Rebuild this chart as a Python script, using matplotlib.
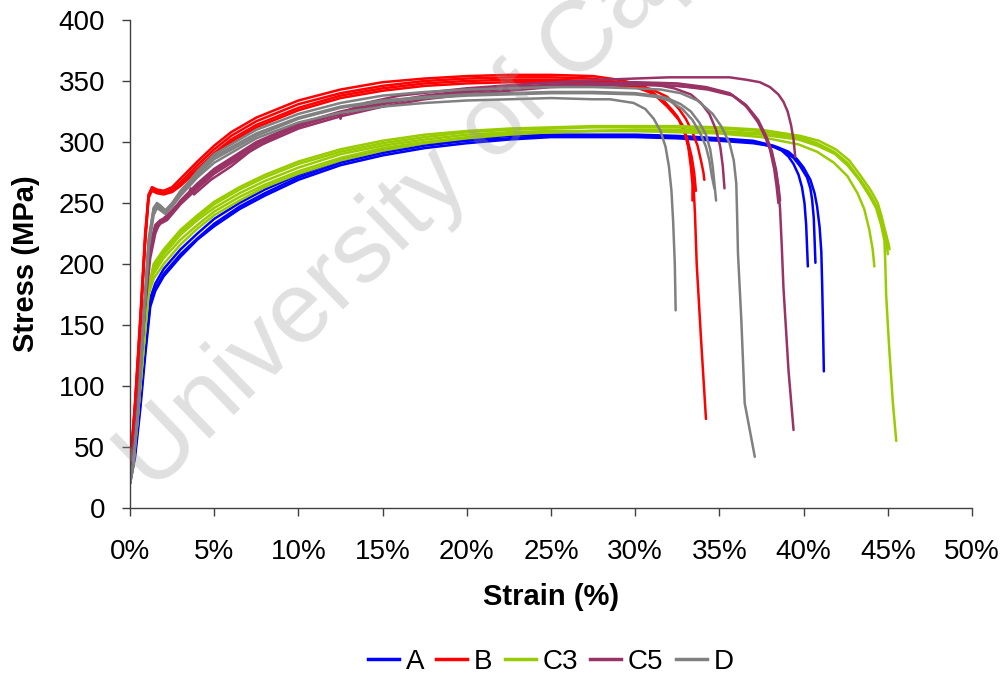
import matplotlib
matplotlib.use("Agg")
import matplotlib.pyplot as plt
from matplotlib.lines import Line2D
from matplotlib.ticker import FuncFormatter

plt.rcParams['font.family'] = ['Liberation Sans', 'DejaVu Sans']

# specimen groups, one colour per group
groups = ["A", "B", "C3", "C5", "D"]
colors = ["#0000FF", "#FF0000", "#99CC00", "#993366", "#808080"]

# strain (%) / stress (MPa), one list per specimen
A_strain = [
    [0, 0.3, 0.6, 0.9, 1.2, 1.5, 2, 3, 4, 5, 6.5, 8, 10, 12.5, 15, 17.5, 20, 22.5, 25, 27.5, 30, 32.5, 35, 37, 38.2, 38.7, 39.1, 39.4, 39.7, 39.9, 40.05, 40.15, 40.2, 40.25],
    [0, 0.3, 0.6, 0.9, 1.2, 1.5, 2, 3, 4, 5, 6.5, 8, 10, 12.5, 15, 17.5, 20, 22.5, 25, 27.5, 30, 32.5, 35, 37, 38.2, 38.9, 39.4, 39.8, 40.2, 40.4, 40.5, 40.6, 40.65, 40.7],
    [0, 0.3, 0.6, 0.9, 1.2, 1.5, 2, 3, 4, 5, 6.5, 8, 10, 12.5, 15, 17.5, 20, 22.5, 25, 27.5, 30, 32.5, 35, 37, 38.4, 39.1, 39.6, 40.0, 40.4, 40.65, 40.8, 40.95, 41.05, 41.1, 41.15, 41.2],
]
A_stress = [
    [22, 45, 85, 130, 168, 180, 192, 208, 221, 233, 247, 258, 271, 283, 291, 297, 301, 303, 305, 305, 305, 304, 302, 300, 296, 293, 288, 282, 273, 263, 250, 232, 215, 198],
    [25, 50, 92, 138, 172, 184, 196, 212, 225, 237, 250, 261, 273, 285, 293, 299, 302, 305, 306, 306, 306, 305, 303, 301, 297, 292, 287, 280, 271, 262, 253, 238, 220, 201],
    [20, 42, 80, 125, 165, 178, 190, 206, 220, 231, 245, 256, 269, 281, 289, 295, 299, 302, 304, 304, 304, 303, 301, 299, 296, 292, 286, 279, 269, 258, 247, 230, 210, 183, 150, 112],
]

B_strain = [
    [0, 0.3, 0.6, 0.9, 1.1, 1.3, 1.6, 2.0, 2.5, 3, 4, 5, 6, 7.5, 10, 12.5, 15, 17.5, 20, 22.5, 25, 27.5, 29, 30, 30.6, 31.1, 31.8, 32.5, 32.9, 33.15, 33.3, 33.4, 33.4],
    [0, 0.3, 0.6, 0.9, 1.1, 1.3, 1.6, 2.0, 2.5, 3, 4, 5, 6, 7.5, 10, 12.5, 15, 17.5, 20, 22.5, 25, 27.5, 29, 30, 30.6, 31.2, 31.9, 32.6, 33.0, 33.3, 33.45, 33.55, 33.65, 33.9, 34.2],
    [0, 0.3, 0.6, 0.9, 1.1, 1.3, 1.6, 2.0, 2.5, 3, 4, 5, 6, 7.5, 10, 12.5, 15, 17.5, 20, 22.5, 25, 27.5, 30, 31.0, 31.9, 32.6, 33.0, 33.4, 33.7, 33.9, 34.05, 34.1],
    [0, 0.3, 0.6, 0.9, 1.1, 1.3, 1.6, 2.0, 2.5, 3, 4, 5, 6, 7.5, 10, 12.5, 15, 17.5, 20, 22.5, 25, 27.5, 30, 30.8, 31.5, 32.2, 32.8, 33.1, 33.35, 33.5, 33.6],
]
B_stress = [
    [30, 85, 150, 222, 256, 263, 261, 260, 263, 270, 284, 297, 308, 320, 334, 343, 349, 352, 354, 355, 355, 354, 351, 348, 345, 340, 332, 321, 310, 296, 280, 265, 252],
    [28, 80, 145, 218, 254, 261, 259, 258, 261, 267, 281, 294, 305, 317, 331, 340, 346, 350, 352, 353, 353, 352, 349, 346, 343, 338, 329, 318, 305, 288, 268, 240, 200, 140, 73],
    [32, 88, 155, 226, 257, 262, 260, 258, 260, 265, 278, 291, 302, 314, 328, 338, 344, 348, 350, 351, 351, 350, 347, 343, 337, 327, 319, 308, 297, 285, 275, 269],
    [30, 84, 150, 220, 255, 260, 258, 257, 259, 264, 277, 290, 300, 312, 326, 336, 342, 346, 348, 349, 349, 348, 345, 341, 336, 326, 314, 302, 288, 275, 260],
]

C3_strain = [
    [0, 0.4, 0.8, 1.1, 1.4, 2, 3, 4, 5, 6.5, 8, 10, 12.5, 15, 17.5, 20, 22.5, 25, 27.5, 30, 32.5, 35, 37.5, 39.7, 40.8, 41.8, 42.6, 43.2, 43.6, 43.9, 44.1, 44.2],
    [0, 0.4, 0.8, 1.1, 1.4, 2, 3, 4, 5, 6.5, 8, 10, 12.5, 15, 17.5, 20, 22.5, 25, 27.5, 30, 32.5, 35, 37.5, 39.7, 40.8, 41.8, 42.6, 43.3, 43.9, 44.3, 44.6, 44.8, 44.95, 45.0],
    [0, 0.4, 0.8, 1.1, 1.4, 2, 3, 4, 5, 6.5, 8, 10, 12.5, 15, 17.5, 20, 22.5, 25, 27.5, 30, 32.5, 35, 37.5, 39.7, 40.8, 41.9, 42.7, 43.4, 44.0, 44.4, 44.7, 44.9, 45.05, 45.1],
    [0, 0.4, 0.8, 1.1, 1.4, 2, 3, 4, 5, 6.5, 8, 10, 12.5, 15, 17.5, 20, 22.5, 25, 27.5, 30, 32.5, 35, 37.5, 39.8, 40.9, 41.9, 42.7, 43.4, 44.0, 44.4, 44.65, 44.85, 45.0],
    [0, 0.4, 0.8, 1.1, 1.4, 2, 3, 4, 5, 6.5, 8, 10, 12.5, 15, 17.5, 20, 22.5, 25, 27.5, 30, 32.5, 35, 37.5, 39.7, 40.8, 41.8, 42.6, 43.3, 43.9, 44.3, 44.6, 44.8, 44.85, 44.9, 45.0, 45.1, 45.3, 45.5],
]
C3_stress = [
    [25, 70, 135, 180, 195, 208, 224, 236, 246, 258, 268, 279, 290, 297, 302, 306, 308, 309, 309, 309, 308, 307, 304, 298, 292, 283, 272, 258, 245, 228, 212, 198],
    [22, 65, 130, 178, 198, 210, 226, 238, 249, 261, 271, 282, 292, 299, 304, 308, 310, 311, 312, 312, 312, 311, 309, 304, 299, 292, 283, 270, 258, 248, 237, 225, 215, 208],
    [24, 68, 132, 176, 192, 205, 220, 232, 243, 255, 265, 276, 287, 295, 300, 304, 307, 308, 309, 309, 309, 308, 306, 302, 297, 290, 280, 268, 255, 245, 233, 224, 216, 212],
    [23, 66, 131, 180, 200, 212, 228, 240, 251, 263, 273, 284, 294, 301, 306, 309, 311, 312, 313, 313, 313, 312, 310, 305, 301, 294, 285, 272, 260, 250, 238, 226, 215],
    [24, 67, 130, 175, 188, 200, 216, 229, 240, 252, 263, 274, 285, 293, 299, 303, 306, 308, 309, 310, 310, 309, 307, 303, 298, 291, 281, 269, 256, 246, 232, 219, 200, 175, 150, 127, 86, 55],
]

C5_strain = [
    [0, 0.3, 0.6, 0.9, 1.2, 1.5, 1.8, 2.2, 2.8, 3.5, 3.6, 3.8, 4.8, 6, 7.1, 9.1, 11, 12.4, 12.5, 12.6, 14, 16, 20, 24, 28, 32, 35.6, 36.6, 37.4, 38.0, 38.5, 38.8, 39.05, 39.25, 39.4, 39.5],
    [0, 0.3, 0.6, 0.9, 1.2, 1.5, 1.8, 2.2, 3, 4, 5, 7.5, 10, 12.5, 15, 17.5, 20, 22.5, 25, 27.5, 30, 31.2, 32.3, 33.3, 33.9, 34.4, 34.8, 35.05, 35.2, 35.3],
    [0, 0.3, 0.6, 0.9, 1.2, 1.5, 1.8, 2.2, 3, 4, 5, 7.5, 10, 12.5, 15, 17.5, 20, 22.5, 25, 27.5, 30, 32.5, 34.2, 35.6, 36.5, 37.2, 37.7, 38.0, 38.25, 38.4, 38.5],
    [0, 0.3, 0.6, 0.9, 1.2, 1.5, 1.8, 2.2, 3, 4, 5, 7.5, 10, 12.5, 15, 17.5, 20, 22.5, 25, 27.5, 30, 32.5, 34.3, 35.7, 36.6, 37.3, 37.8, 38.1, 38.35, 38.5, 38.6],
    [0, 0.3, 0.6, 0.9, 1.2, 1.5, 1.8, 2.2, 3, 4, 5, 7.5, 10, 12.5, 15, 17.5, 20, 22.5, 25, 27.5, 30, 32.5, 34.3, 35.8, 36.6, 37.3, 37.8, 38.1, 38.35, 38.5, 38.6, 38.7, 38.8, 39.1, 39.4],
]
C5_stress = [
    [25, 60, 110, 165, 205, 225, 235, 240, 248, 257, 262, 257, 269, 280, 292, 308, 318, 323, 319, 324, 332, 338, 344, 348, 351, 353, 353, 351, 349, 345, 339, 333, 325, 314, 302, 288],
    [25, 60, 115, 175, 215, 232, 236, 238, 252, 266, 278, 300, 315, 325, 332, 338, 342, 345, 347, 348, 348, 347, 344, 339, 332, 323, 310, 296, 280, 262],
    [22, 58, 112, 170, 212, 230, 234, 237, 250, 264, 276, 298, 313, 323, 331, 337, 341, 344, 346, 348, 349, 348, 345, 340, 331, 319, 305, 294, 278, 263, 250],
    [23, 57, 110, 168, 210, 228, 233, 236, 249, 262, 274, 296, 311, 321, 329, 335, 339, 342, 345, 346, 347, 346, 344, 339, 330, 318, 304, 293, 278, 264, 252],
    [24, 59, 113, 172, 213, 231, 235, 238, 251, 265, 277, 299, 314, 324, 332, 337, 341, 344, 346, 347, 347, 346, 343, 338, 329, 316, 302, 291, 276, 262, 245, 215, 181, 113, 64],
]

D_strain = [
    [0, 0.2, 0.5, 0.8, 1.1, 1.4, 1.6, 1.8, 2.1, 2.5, 3, 4, 5, 7.5, 10, 12.5, 15, 17.5, 20, 22.5, 25, 27.5, 28.5, 29.9, 30.6, 31.1, 31.5, 31.8, 32.0, 32.15, 32.25, 32.35, 32.4],
    [0, 0.2, 0.5, 0.8, 1.1, 1.4, 1.6, 1.8, 2.1, 2.5, 3, 4, 5, 7.5, 10, 12.5, 15, 17.5, 20, 22.5, 25, 27.5, 30, 31.2, 31.9, 32.7, 33.3, 33.8, 34.2, 34.45, 34.6, 34.7, 34.8],
    [0, 0.2, 0.5, 0.8, 1.1, 1.4, 1.6, 1.8, 2.1, 2.5, 3, 4, 5, 7.5, 10, 12.5, 15, 17.5, 20, 22.5, 25, 27.5, 30, 31.5, 32.7, 33.7, 34.6, 35.1, 35.6, 35.85, 36.0, 36.05, 36.1, 36.3, 36.5, 37.1],
    [0, 0.2, 0.5, 0.8, 1.1, 1.4, 1.6, 1.8, 2.1, 2.5, 3, 4, 5, 7.5, 10, 12.5, 15, 17.5, 20, 22.5, 25, 27.5, 30, 31.2, 32.0, 32.8, 33.4, 33.9, 34.2, 34.4, 34.55, 34.7],
]
D_stress = [
    [20, 35, 80, 150, 215, 244, 249, 246, 242, 247, 256, 271, 283, 303, 316, 324, 329, 332, 334, 335, 336, 335, 335, 332, 327, 319, 309, 296, 280, 260, 235, 200, 162],
    [22, 38, 85, 155, 220, 246, 250, 248, 244, 250, 260, 275, 288, 307, 320, 329, 334, 337, 339, 340, 341, 341, 340, 338, 336, 331, 325, 316, 306, 294, 280, 266, 252],
    [20, 36, 82, 150, 212, 240, 246, 244, 241, 248, 259, 276, 290, 310, 323, 332, 338, 341, 343, 344, 345, 345, 344, 343, 340, 334, 323, 313, 299, 285, 266, 240, 209, 154, 86, 42],
    [21, 37, 84, 152, 218, 245, 248, 246, 243, 249, 258, 273, 286, 305, 319, 328, 333, 336, 338, 339, 340, 340, 339, 337, 334, 327, 318, 306, 296, 285, 272, 262],
]

all_strain = [A_strain, B_strain, C3_strain, C5_strain, D_strain]
all_stress = [A_stress, B_stress, C3_stress, C5_stress, D_stress]

fig = plt.figure(figsize=(10.05, 6.77), dpi=100)
ax = fig.add_axes([0.1294, 0.2496, 0.8378, 0.7209])

for name, col, xs, ys in zip(groups, colors, all_strain, all_stress):
    for x, y in zip(xs, ys):
        ax.plot(x, y, color=col, lw=1.8, solid_joinstyle='round', solid_capstyle='round')

ax.set_xlim(0, 50)
ax.set_ylim(0, 400)
ax.set_xticks(range(0, 51, 5))
ax.set_yticks(range(0, 401, 50))
ax.xaxis.set_major_formatter(FuncFormatter(lambda v, p: f"{v:.0f}%"))
for s in ['top', 'right']:
    ax.spines[s].set_visible(False)
for s in ['left', 'bottom']:
    ax.spines[s].set_color('#404040')
    ax.spines[s].set_linewidth(1.0)
ax.tick_params(axis='both', direction='out', length=6, width=1.0, color='#404040', labelsize=20)
ax.tick_params(axis='x', pad=16)
ax.tick_params(axis='y', pad=12)

ax.set_xlabel("Strain (%)", fontsize=21, fontweight='bold', labelpad=13)
ax.set_ylabel("Stress (MPa)", fontsize=21, fontweight='bold', labelpad=13)

# watermark
fig.text(0.152, 0.27, "University of Cape Town", fontsize=73, color='#999999', alpha=0.3,
         rotation=44, rotation_mode='anchor', ha='left', va='baseline', zorder=10)

handles = [Line2D([0], [0], color=c, lw=2.5) for c in colors]
fig.legend(handles, groups, loc='center', bbox_to_anchor=(0.548, 0.022), ncol=5,
           frameon=False, fontsize=20, handlelength=1.1, handletextpad=0.25,
           columnspacing=0.45)

fig.savefig("out.png", dpi=100)
